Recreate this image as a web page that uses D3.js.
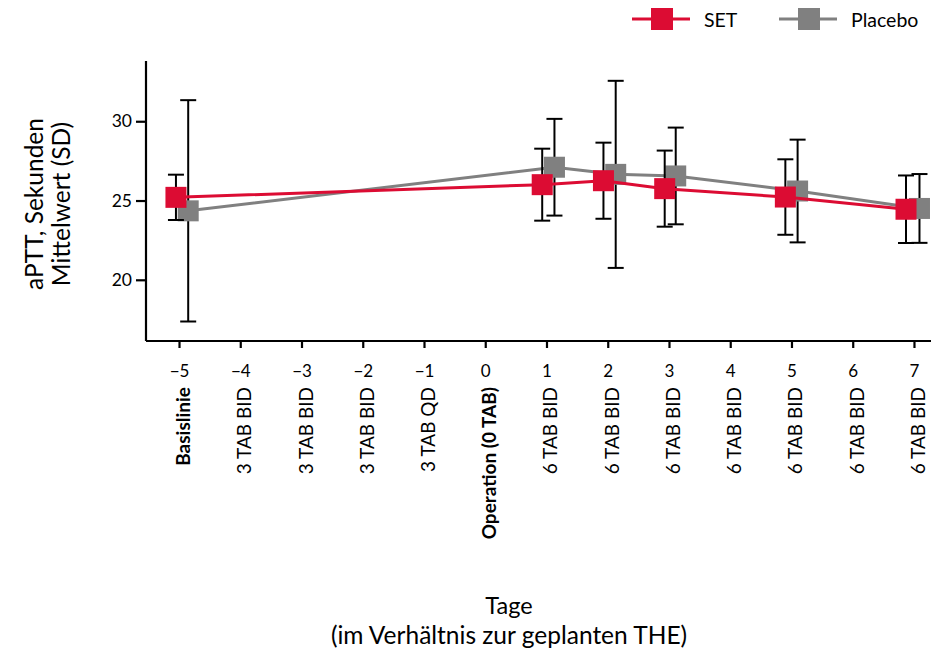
<!DOCTYPE html>
<html>
<head>
<meta charset="utf-8">
<script src="https://cdn.jsdelivr.net/npm/d3@7"></script>
<style>
  html, body { margin: 0; padding: 0; background: #fff; }
  svg text { font-family: Lato, "Liberation Sans", sans-serif; fill: #000; }
</style>
</head>
<body>
<svg id="chart" width="931" height="652"></svg>
<script>
// ---- Data ----
const tickDays = [-5, -4, -3, -2, -1, 0, 1, 2, 3, 4, 5, 6, 7];
const tickNumLabels = ["\u22125", "\u22124", "\u22123", "\u22122", "\u22121", "0", "1", "2", "3", "4", "5", "6", "7"];
const tickDoseLabels = ["Basislinie", "3 TAB BID", "3 TAB BID", "3 TAB BID", "3 TAB QD", "Operation (0 TAB)",
  "6 TAB BID", "6 TAB BID", "6 TAB BID", "6 TAB BID", "6 TAB BID", "6 TAB BID", "6 TAB BID"];
const boldLabels = ["Basislinie", "Operation (0 TAB)"];

const setDays = [-5.05, 0.93, 1.93, 2.93, 4.9, 6.87];
const setMean = [25.2, 26.0, 26.25, 25.75, 25.22, 24.45];
const setSD   = [1.43, 2.27, 2.4, 2.4, 2.38, 2.13];

const placeboDays = [-4.85, 1.13, 2.13, 3.11, 5.1, 7.09];
const placeboMean = [24.35, 27.1, 26.65, 26.55, 25.6, 24.5];
const placeboSD   = [6.98, 3.05, 5.9, 3.05, 3.24, 2.17];

const yTicks = [20, 25, 30];

const series = [
  { name: "Placebo", color: "#808080", days: placeboDays, mean: placeboMean, sd: placeboSD },
  { name: "SET", color: "#DC0C33", days: setDays, mean: setMean, sd: setSD }
];

// ---- Layout ----
const svg = d3.select("#chart");
const mLeft = 146, mRight = 931, mTop = 61, mBottom = 341;

const x = d3.scaleLinear().domain([-5.539, 7.278]).range([mLeft, mRight]);
const y = d3.scaleLinear().domain([16.14, 33.8]).range([mBottom, mTop]);

// Axes
const xAxis = svg.append("g").attr("transform", `translate(0,${mBottom})`)
  .call(d3.axisBottom(x).tickValues(tickDays).tickSize(7).tickFormat((d, i) => tickNumLabels[i]));
xAxis.select(".domain").attr("stroke-width", 2.2).attr("d", `M${mLeft},0H${mRight}`);
xAxis.selectAll(".tick line").attr("stroke-width", 2.2);
xAxis.selectAll(".tick text").attr("font-size", 17).attr("dy", 0).attr("y", 36);

// Dose labels rotated
xAxis.selectAll(".tick").append("text")
  .attr("class", "dose")
  .attr("transform", "translate(10.5,46) rotate(-90)")
  .attr("text-anchor", "end")
  .attr("font-size", 19)
  .attr("font-weight", (d, i) => boldLabels.includes(tickDoseLabels[i]) ? "bold" : "normal")
  .text((d, i) => tickDoseLabels[i]);

const yAxis = svg.append("g").attr("transform", `translate(${mLeft},0)`)
  .call(d3.axisLeft(y).tickValues(yTicks).tickSize(10).tickFormat(d3.format("d")));
yAxis.select(".domain").attr("stroke-width", 2.2).attr("d", `M0,${mTop}V${mBottom}`);
yAxis.selectAll(".tick line").attr("stroke-width", 2.2);
yAxis.selectAll(".tick text").attr("font-size", 17.5).attr("x", -14);

// Series
const sq = 21;
series.forEach(s => {
  const pts = s.days.map((d, i) => ({ d, m: s.mean[i], sd: s.sd[i] }));
  const g = svg.append("g");
  g.append("path")
    .datum(pts)
    .attr("fill", "none")
    .attr("stroke", s.color)
    .attr("stroke-width", 3)
    .attr("d", d3.line().x(p => x(p.d)).y(p => y(p.m)));
  const eb = g.selectAll(".eb").data(pts).enter().append("g").attr("stroke", "#000").attr("stroke-width", 2);
  eb.append("line").attr("x1", p => x(p.d)).attr("x2", p => x(p.d))
    .attr("y1", p => y(p.m + p.sd)).attr("y2", p => y(p.m - p.sd));
  eb.append("line").attr("x1", p => x(p.d) - 8).attr("x2", p => x(p.d) + 8)
    .attr("y1", p => y(p.m + p.sd)).attr("y2", p => y(p.m + p.sd));
  eb.append("line").attr("x1", p => x(p.d) - 8).attr("x2", p => x(p.d) + 8)
    .attr("y1", p => y(p.m - p.sd)).attr("y2", p => y(p.m - p.sd));
  g.selectAll(".sq").data(pts).enter().append("rect")
    .attr("x", p => x(p.d) - sq / 2).attr("y", p => y(p.m) - sq / 2)
    .attr("width", sq).attr("height", sq)
    .attr("fill", s.color);
});

// Legend
const legendItems = [
  { name: "SET", color: "#DC0C33", x0: 632 },
  { name: "Placebo", color: "#808080", x0: 779 }
];
const lg = svg.append("g");
legendItems.forEach(it => {
  lg.append("line").attr("x1", it.x0).attr("x2", it.x0 + 58).attr("y1", 19).attr("y2", 19)
    .attr("stroke", it.color).attr("stroke-width", 3);
  lg.append("rect").attr("x", it.x0 + 19).attr("y", 8).attr("width", 22).attr("height", 22).attr("fill", it.color);
  lg.append("text").attr("x", it.x0 + 72).attr("y", 27).attr("font-size", 19.5).text(it.name);
});

// Axis titles
svg.append("text").attr("x", 509).attr("y", 614).attr("text-anchor", "middle").attr("font-size", 23.5).text("Tage");
svg.append("text").attr("x", 509).attr("y", 644).attr("text-anchor", "middle").attr("font-size", 24.5).text("(im Verhältnis zur geplanten THE)");

const yt = svg.append("text").attr("transform", "translate(0,204) rotate(-90)").attr("text-anchor", "middle").attr("font-size", 24.5);
yt.append("tspan").attr("x", 0).attr("y", 43).text("aPTT, Sekunden");
yt.append("tspan").attr("x", 0).attr("y", 70).text("Mittelwert (SD)");
</script>
</body>
</html>
